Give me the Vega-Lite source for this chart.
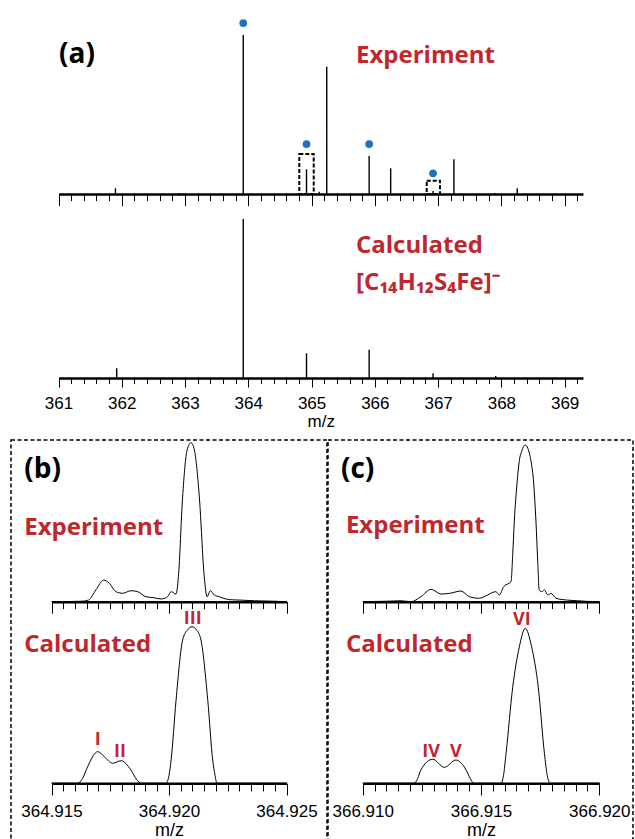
{
  "$schema": "https://vega.github.io/schema/vega-lite/v6.json",
  "background": "white",
  "padding": {"left": 10, "top": 0, "right": 2, "bottom": 0},
  "bounds": "flush",
  "spacing": 0,
  "config": {
    "view": {"stroke": null},
    "axis": {"grid": false, "domainColor": "black", "domainWidth": 2.5, "tickColor": "black", "tickWidth": 1, "labelFont": "Liberation Sans", "labelFontSize": 17, "labelColor": "black", "titleFont": "Liberation Sans", "titleFontSize": 18, "titleFontWeight": "normal", "titleColor": "black", "labelFlush": false, "labelOverlap": false, "labelBound": false},
    "text": {"font": "Open Sans", "fontWeight": "bold"}
  },
  "datasets": {
    "aExp": [{"mz":361.90,"intensity":3.6},{"mz":362.91,"intensity":0.6},{"mz":363.92,"intensity":100},{"mz":364.92,"intensity":15.5},{"mz":365.12,"intensity":1.4},{"mz":365.24,"intensity":80},{"mz":365.91,"intensity":23.9},{"mz":366.25,"intensity":16.2},{"mz":366.92,"intensity":1.9},{"mz":367.25,"intensity":21.8},{"mz":367.90,"intensity":0.6},{"mz":368.25,"intensity":3.6}],
    "aDots": [{"mz":363.92,"intensity":107.5},{"mz":364.92,"intensity":31.4},{"mz":365.91,"intensity":31.4},{"mz":366.92,"intensity":13}],
    "aBoxes": [{"mz0":364.806,"mz1":365.034,"top":25.2},{"mz0":366.82,"mz1":367.03,"top":8.4}],
    "aCalc": [{"mz":361.92,"intensity":6.1},{"mz":363.92,"intensity":100},{"mz":364.92,"intensity":15.5},{"mz":365.91,"intensity":17.8},{"mz":366.92,"intensity":3},{"mz":367.91,"intensity":1.3}],
    "bExp": [{"mz":364.915,"intensity":0},{"mz":364.9163,"intensity":0.3},{"mz":364.91657,"intensity":1},{"mz":364.91689,"intensity":7.4},{"mz":364.91722,"intensity":13.6},{"mz":364.91746,"intensity":11.6},{"mz":364.91774,"intensity":6.3},{"mz":364.91803,"intensity":5.3},{"mz":364.91838,"intensity":6.9},{"mz":364.91867,"intensity":6.3},{"mz":364.91902,"intensity":3.1},{"mz":364.91937,"intensity":2.5},{"mz":364.91966,"intensity":1.7},{"mz":364.9198,"intensity":2.1},{"mz":364.91994,"intensity":3.1},{"mz":364.92009,"intensity":6.3},{"mz":364.9203,"intensity":4.8},{"mz":364.9204,"intensity":15.7},{"mz":364.92058,"intensity":66},{"mz":364.92077,"intensity":95.4},{"mz":364.92094,"intensity":100},{"mz":364.92108,"intensity":95.4},{"mz":364.92129,"intensity":66},{"mz":364.9215,"intensity":15.7},{"mz":364.92162,"intensity":3.1},{"mz":364.92176,"intensity":6.9},{"mz":364.92193,"intensity":4.2},{"mz":364.92214,"intensity":3.1},{"mz":364.92233,"intensity":2.1},{"mz":364.92257,"intensity":1.3},{"mz":364.92306,"intensity":1},{"mz":364.92363,"intensity":0.6},{"mz":364.9245,"intensity":0.3},{"mz":364.925,"intensity":0}],
    "bCalc": [{"mz":364.915,"intensity":0},{"mz":364.91611,"intensity":0},{"mz":364.91632,"intensity":3},{"mz":364.91654,"intensity":10.7},{"mz":364.91697,"intensity":20.2},{"mz":364.91725,"intensity":17},{"mz":364.9176,"intensity":12.8},{"mz":364.91796,"intensity":14.4},{"mz":364.91838,"intensity":8.5},{"mz":364.91862,"intensity":2.5},{"mz":364.91881,"intensity":0},{"mz":364.91987,"intensity":0},{"mz":364.92,"intensity":5},{"mz":364.92009,"intensity":14.9},{"mz":364.9203,"intensity":53},{"mz":364.92058,"intensity":91.5},{"mz":364.92079,"intensity":98},{"mz":364.92098,"intensity":100},{"mz":364.92117,"intensity":98},{"mz":364.92136,"intensity":91.5},{"mz":364.92165,"intensity":53},{"mz":364.92186,"intensity":14.9},{"mz":364.92196,"intensity":5},{"mz":364.92204,"intensity":0},{"mz":364.925,"intensity":0}],
    "cExp": [{"mz":366.91,"intensity":0},{"mz":366.911,"intensity":0.3},{"mz":366.91162,"intensity":0.6},{"mz":366.91204,"intensity":0},{"mz":366.91246,"intensity":3.2},{"mz":366.91289,"intensity":7.9},{"mz":366.91331,"intensity":4.9},{"mz":366.91366,"intensity":5.3},{"mz":366.91415,"intensity":6.8},{"mz":366.91451,"intensity":3.2},{"mz":366.91493,"intensity":2.2},{"mz":366.91528,"intensity":4.3},{"mz":366.91563,"intensity":6.4},{"mz":366.91577,"intensity":4.3},{"mz":366.91596,"intensity":9.6},{"mz":366.91627,"intensity":12.8},{"mz":366.91634,"intensity":30},{"mz":366.91641,"intensity":52},{"mz":366.91652,"intensity":75},{"mz":366.91662,"intensity":90},{"mz":366.91672,"intensity":96},{"mz":366.91687,"intensity":100},{"mz":366.91704,"intensity":95},{"mz":366.91711,"intensity":90},{"mz":366.91723,"intensity":75},{"mz":366.91732,"intensity":52},{"mz":366.9174,"intensity":25},{"mz":366.91746,"intensity":7.5},{"mz":366.91757,"intensity":6.4},{"mz":366.91768,"intensity":7.5},{"mz":366.91782,"intensity":4.3},{"mz":366.91796,"intensity":5.3},{"mz":366.91817,"intensity":2.2},{"mz":366.91838,"intensity":1.5},{"mz":366.91866,"intensity":1},{"mz":366.91909,"intensity":0.6},{"mz":366.9195,"intensity":0.2},{"mz":366.92,"intensity":0}],
    "cCalc": [{"mz":366.91,"intensity":0},{"mz":366.91218,"intensity":0},{"mz":366.91232,"intensity":3},{"mz":366.91246,"intensity":8.6},{"mz":366.91296,"intensity":15.5},{"mz":366.91345,"intensity":10.3},{"mz":366.91394,"intensity":15},{"mz":366.91437,"intensity":8.6},{"mz":366.91455,"intensity":3},{"mz":366.91469,"intensity":0},{"mz":366.91585,"intensity":0},{"mz":366.91595,"intensity":5},{"mz":366.91606,"intensity":19.4},{"mz":366.91634,"intensity":62},{"mz":366.91662,"intensity":88},{"mz":366.91687,"intensity":100},{"mz":366.91714,"intensity":88},{"mz":366.91742,"intensity":62},{"mz":366.91768,"intensity":19.4},{"mz":366.9178,"intensity":5},{"mz":366.91793,"intensity":0},{"mz":366.92,"intensity":0}],
    "notes": [
      {"view":"A_exp","kind":"panel","label":"(a)","mz":361.008,"level":82.4},
      {"view":"A_exp","kind":"series","label":"Experiment","mz":365.702,"level":82.2},
      {"view":"A_calc","kind":"series","label":"Calculated","mz":365.702,"level":78.4},
      {"view":"A_calc","kind":"series","label":"[C₁₄H₁₂S₄Fe]⁻","mz":365.702,"level":55.3},
      {"view":"B_exp","kind":"panel","label":"(b)","mz":364.91384,"level":77.8},
      {"view":"B_exp","kind":"series","label":"Experiment","mz":364.91384,"level":41.9},
      {"view":"B_calc","kind":"series","label":"Calculated","mz":364.91384,"level":84},
      {"view":"B_calc","kind":"peak","label":"I","mz":364.91697,"level":24.5},
      {"view":"B_calc","kind":"peak","label":"II","mz":364.91791,"level":17},
      {"view":"B_calc","kind":"peak","label":"III","mz":364.92101,"level":101.7},
      {"view":"C_exp","kind":"panel","label":"(c)","mz":366.90908,"level":78.9},
      {"view":"C_exp","kind":"series","label":"Experiment","mz":366.90929,"level":43.6},
      {"view":"C_calc","kind":"series","label":"Calculated","mz":366.90929,"level":84.9},
      {"view":"C_calc","kind":"peak","label":"IV","mz":366.91289,"level":16.8},
      {"view":"C_calc","kind":"peak","label":"V","mz":366.91394,"level":16.8},
      {"view":"C_calc","kind":"peak","label":"VI","mz":366.91673,"level":102.1}
    ]
  },
  "vconcat": [
    {
      "width": 622,
      "height": 440,
      "view": {"stroke": null, "fill": "white"},
      "resolve": {"scale": {"x": "independent", "y": "independent"}, "axis": {"x": "independent", "y": "independent"}},
      "layer": [
        {
          "data": {"name": "aExp"},
          "mark": {"type": "rule", "color": "black", "strokeWidth": 1.4},
          "encoding": {
            "x": {"field": "mz", "type": "quantitative", "scale": {"domain": [361, 369.29], "range": [47.5, 572], "nice": false, "zero": false},
              "axis": {"orient": "bottom", "offset": -246, "labels": false, "title": null, "tickSize": 6.7, "values": [361,361.2,361.4,361.6,361.8,362,362.2,362.4,362.6,362.8,363,363.2,363.4,363.6,363.8,364,364.2,364.4,364.6,364.8,365,365.2,365.4,365.6,365.8,366,366.2,366.4,366.6,366.8,367,367.2,367.4,367.6,367.8,368,368.2,368.4,368.6,368.8,369,369.2]}},
            "y": {"field": "intensity", "type": "quantitative", "scale": {"domain": [0, 100], "range": [194, 35], "nice": false, "zero": false}, "axis": null},
            "y2": {"datum": 0}
          }
        },
        {
          "data": {"name": "aBoxes"},
          "mark": {"type": "rect", "fill": "transparent", "stroke": "black", "strokeWidth": 2, "strokeDash": [4, 2]},
          "encoding": {
            "x": {"field": "mz0", "type": "quantitative", "scale": {"domain": [361, 369.29], "range": [47.5, 572], "nice": false, "zero": false}, "axis": null},
            "x2": {"field": "mz1"},
            "y": {"field": "top", "type": "quantitative", "scale": {"domain": [0, 100], "range": [194, 35], "nice": false, "zero": false}, "axis": null},
            "y2": {"datum": 0}
          }
        },
        {
          "data": {"name": "aDots"},
          "mark": {"type": "point", "filled": true, "size": 60, "color": "#1f71c2", "opacity": 1},
          "encoding": {
            "x": {"field": "mz", "type": "quantitative", "scale": {"domain": [361, 369.29], "range": [47.5, 572], "nice": false, "zero": false}, "axis": null},
            "y": {"field": "intensity", "type": "quantitative", "scale": {"domain": [0, 100], "range": [194, 35], "nice": false, "zero": false}, "axis": null}
          }
        },
        {
          "data": {"name": "notes"},
          "transform": [{"filter": "datum.view === 'A_exp' && datum.kind === 'panel'"}],
          "mark": {"type": "text", "align": "left", "baseline": "alphabetic", "fontSize": 28, "color": "black"},
          "encoding": {
            "x": {"field": "mz", "type": "quantitative", "scale": {"domain": [361, 369.29], "range": [47.5, 572], "nice": false, "zero": false},
              "axis": {"orient": "bottom", "offset": -246, "labels": false, "title": null, "domain": false, "tickSize": 11.7, "values": [361,362,363,364,365,366,367,368,369]}},
            "y": {"field": "level", "type": "quantitative", "scale": {"domain": [0, 100], "range": [194, 35], "nice": false, "zero": false}, "axis": null},
            "text": {"field": "label"}
          }
        },
        {
          "data": {"name": "notes"},
          "transform": [{"filter": "datum.view === 'A_exp' && datum.kind === 'series'"}],
          "mark": {"type": "text", "align": "left", "baseline": "alphabetic", "fontSize": 24, "color": "#c0272d"},
          "encoding": {
            "x": {"field": "mz", "type": "quantitative", "scale": {"domain": [361, 369.29], "range": [47.5, 572], "nice": false, "zero": false}, "axis": null},
            "y": {"field": "level", "type": "quantitative", "scale": {"domain": [0, 100], "range": [194, 35], "nice": false, "zero": false}, "axis": null},
            "text": {"field": "label"}
          }
        },
        {
          "data": {"name": "aCalc"},
          "mark": {"type": "rule", "color": "black", "strokeWidth": 1.4},
          "encoding": {
            "x": {"field": "mz", "type": "quantitative", "scale": {"domain": [361, 369.29], "range": [47.5, 572], "nice": false, "zero": false},
              "axis": {"orient": "bottom", "offset": -62, "labels": false, "title": null, "tickSize": 5.5, "values": [361,361.2,361.4,361.6,361.8,362,362.2,362.4,362.6,362.8,363,363.2,363.4,363.6,363.8,364,364.2,364.4,364.6,364.8,365,365.2,365.4,365.6,365.8,366,366.2,366.4,366.6,366.8,367,367.2,367.4,367.6,367.8,368,368.2,368.4,368.6,368.8,369,369.2]}},
            "y": {"field": "intensity", "type": "quantitative", "scale": {"domain": [0, 100], "range": [378, 219], "nice": false, "zero": false}, "axis": null},
            "y2": {"datum": 0}
          }
        },
        {
          "data": {"name": "notes"},
          "transform": [{"filter": "datum.view === 'A_calc' && datum.kind === 'series'"}],
          "mark": {"type": "text", "align": "left", "baseline": "alphabetic", "fontSize": 24, "color": "#c0272d"},
          "encoding": {
            "x": {"field": "mz", "type": "quantitative", "scale": {"domain": [361, 369.29], "range": [47.5, 572], "nice": false, "zero": false},
              "axis": {"orient": "bottom", "offset": -62, "domain": false, "tickSize": 9, "labelPadding": 8, "format": "d", "title": "m/z", "titleFontSize": 17, "titlePadding": 2, "values": [361,362,363,364,365,366,367,368,369]}},
            "y": {"field": "level", "type": "quantitative", "scale": {"domain": [0, 100], "range": [378, 219], "nice": false, "zero": false}, "axis": null},
            "text": {"field": "label"}
          }
        }
      ]
    },
    {
      "hconcat": [
        {
          "width": 316,
          "height": 400,
          "view": {"stroke": "black", "strokeWidth": 1.5, "strokeDash": [4, 2.5], "fill": "white"},
          "resolve": {"scale": {"x": "independent", "y": "independent"}, "axis": {"x": "independent", "y": "independent"}},
          "layer": [
            {
              "data": {"name": "bExp"},
              "mark": {"type": "line", "color": "black", "strokeWidth": 1, "interpolate": "monotone"},
              "encoding": {
                "x": {"field": "mz", "type": "quantitative", "scale": {"domain": [364.915, 364.925], "range": [40.5, 275.5], "nice": false, "zero": false},
                  "axis": {"orient": "bottom", "offset": -238.3, "labels": false, "title": null, "tickSize": 7,
                    "values": [364.915,364.9155,364.916,364.9165,364.917,364.9175,364.918,364.9185,364.919,364.9195,364.92,364.9205,364.921,364.9215,364.922,364.9225,364.923,364.9235,364.924,364.9245,364.925]}},
                "y": {"field": "intensity", "type": "quantitative", "scale": {"domain": [0, 100], "range": [161.7, 2.7], "nice": false, "zero": false}, "axis": null}
              }
            },
            {
              "data": {"name": "notes"},
              "transform": [{"filter": "datum.view === 'B_exp' && datum.kind === 'panel'"}],
              "mark": {"type": "text", "align": "left", "baseline": "alphabetic", "fontSize": 28, "color": "black"},
              "encoding": {
                "x": {"field": "mz", "type": "quantitative", "scale": {"domain": [364.915, 364.925], "range": [40.5, 275.5], "nice": false, "zero": false},
                  "axis": {"orient": "bottom", "offset": -238.3, "labels": false, "title": null, "domain": false, "tickSize": 11.5, "values": [364.915, 364.92, 364.925]}},
                "y": {"field": "level", "type": "quantitative", "scale": {"domain": [0, 100], "range": [161.7, 2.7], "nice": false, "zero": false}, "axis": null},
                "text": {"field": "label"}
              }
            },
            {
              "data": {"name": "notes"},
              "transform": [{"filter": "datum.view === 'B_exp' && datum.kind === 'series'"}],
              "mark": {"type": "text", "align": "left", "baseline": "alphabetic", "fontSize": 24, "color": "#c0272d"},
              "encoding": {
                "x": {"field": "mz", "type": "quantitative", "scale": {"domain": [364.915, 364.925], "range": [40.5, 275.5], "nice": false, "zero": false}, "axis": null},
                "y": {"field": "level", "type": "quantitative", "scale": {"domain": [0, 100], "range": [161.7, 2.7], "nice": false, "zero": false}, "axis": null},
                "text": {"field": "label"}
              }
            },
            {
              "data": {"name": "bCalc"},
              "mark": {"type": "line", "color": "black", "strokeWidth": 1, "interpolate": "monotone"},
              "encoding": {
                "x": {"field": "mz", "type": "quantitative", "scale": {"domain": [364.915, 364.925], "range": [40.5, 275.5], "nice": false, "zero": false},
                  "axis": {"orient": "bottom", "offset": -56.7, "labels": false, "title": null, "tickSize": 7.7,
                    "values": [364.915,364.9155,364.916,364.9165,364.917,364.9175,364.918,364.9185,364.919,364.9195,364.92,364.9205,364.921,364.9215,364.922,364.9225,364.923,364.9235,364.924,364.9245,364.925]}},
                "y": {"field": "intensity", "type": "quantitative", "scale": {"domain": [0, 100], "range": [343.3, 186.7], "nice": false, "zero": false}, "axis": null}
              }
            },
            {
              "data": {"name": "notes"},
              "transform": [{"filter": "datum.view === 'B_calc' && datum.kind === 'series'"}],
              "mark": {"type": "text", "align": "left", "baseline": "alphabetic", "fontSize": 24, "color": "#c0272d"},
              "encoding": {
                "x": {"field": "mz", "type": "quantitative", "scale": {"domain": [364.915, 364.925], "range": [40.5, 275.5], "nice": false, "zero": false},
                  "axis": {"orient": "bottom", "offset": -56.7, "domain": false, "tickSize": 11.7, "labelPadding": 8.2, "format": ".3f", "title": "m/z", "titlePadding": 2, "values": [364.915, 364.92, 364.925]}},
                "y": {"field": "level", "type": "quantitative", "scale": {"domain": [0, 100], "range": [343.3, 186.7], "nice": false, "zero": false}, "axis": null},
                "text": {"field": "label"}
              }
            },
            {
              "data": {"name": "notes"},
              "transform": [{"filter": "datum.view === 'B_calc' && datum.kind === 'peak'"}],
              "mark": {"type": "text", "align": "center", "baseline": "alphabetic", "fontSize": 18, "color": "#c0272d"},
              "encoding": {
                "x": {"field": "mz", "type": "quantitative", "scale": {"domain": [364.915, 364.925], "range": [40.5, 275.5], "nice": false, "zero": false}, "axis": null},
                "y": {"field": "level", "type": "quantitative", "scale": {"domain": [0, 100], "range": [343.3, 186.7], "nice": false, "zero": false}, "axis": null},
                "text": {"field": "label"}
              }
            }
          ]
        },
        {
          "width": 305,
          "height": 400,
          "view": {"stroke": "black", "strokeWidth": 1.5, "strokeDash": [4, 2.5], "fill": "white"},
          "resolve": {"scale": {"x": "independent", "y": "independent"}, "axis": {"x": "independent", "y": "independent"}},
          "layer": [
            {
              "data": {"name": "cExp"},
              "mark": {"type": "line", "color": "black", "strokeWidth": 1, "interpolate": "monotone"},
              "encoding": {
                "x": {"field": "mz", "type": "quantitative", "scale": {"domain": [366.91, 366.92], "range": [34.7, 271.3], "nice": false, "zero": false},
                  "axis": {"orient": "bottom", "offset": -238.3, "labels": false, "title": null, "tickSize": 7,
                    "values": [366.91,366.9105,366.911,366.9115,366.912,366.9125,366.913,366.9135,366.914,366.9145,366.915,366.9155,366.916,366.9165,366.917,366.9175,366.918,366.9185,366.919,366.9195,366.92]}},
                "y": {"field": "intensity", "type": "quantitative", "scale": {"domain": [0, 100], "range": [161.7, 5], "nice": false, "zero": false}, "axis": null}
              }
            },
            {
              "data": {"name": "notes"},
              "transform": [{"filter": "datum.view === 'C_exp' && datum.kind === 'panel'"}],
              "mark": {"type": "text", "align": "left", "baseline": "alphabetic", "fontSize": 28, "color": "black"},
              "encoding": {
                "x": {"field": "mz", "type": "quantitative", "scale": {"domain": [366.91, 366.92], "range": [34.7, 271.3], "nice": false, "zero": false},
                  "axis": {"orient": "bottom", "offset": -238.3, "labels": false, "title": null, "domain": false, "tickSize": 11.5, "values": [366.91, 366.915, 366.92]}},
                "y": {"field": "level", "type": "quantitative", "scale": {"domain": [0, 100], "range": [161.7, 5], "nice": false, "zero": false}, "axis": null},
                "text": {"field": "label"}
              }
            },
            {
              "data": {"name": "notes"},
              "transform": [{"filter": "datum.view === 'C_exp' && datum.kind === 'series'"}],
              "mark": {"type": "text", "align": "left", "baseline": "alphabetic", "fontSize": 24, "color": "#c0272d"},
              "encoding": {
                "x": {"field": "mz", "type": "quantitative", "scale": {"domain": [366.91, 366.92], "range": [34.7, 271.3], "nice": false, "zero": false}, "axis": null},
                "y": {"field": "level", "type": "quantitative", "scale": {"domain": [0, 100], "range": [161.7, 5], "nice": false, "zero": false}, "axis": null},
                "text": {"field": "label"}
              }
            },
            {
              "data": {"name": "cCalc"},
              "mark": {"type": "line", "color": "black", "strokeWidth": 1, "interpolate": "monotone"},
              "encoding": {
                "x": {"field": "mz", "type": "quantitative", "scale": {"domain": [366.91, 366.92], "range": [34.7, 271.3], "nice": false, "zero": false},
                  "axis": {"orient": "bottom", "offset": -56.7, "labels": false, "title": null, "tickSize": 7.7,
                    "values": [366.91,366.9105,366.911,366.9115,366.912,366.9125,366.913,366.9135,366.914,366.9145,366.915,366.9155,366.916,366.9165,366.917,366.9175,366.918,366.9185,366.919,366.9195,366.92]}},
                "y": {"field": "intensity", "type": "quantitative", "scale": {"domain": [0, 100], "range": [343.3, 188.3], "nice": false, "zero": false}, "axis": null}
              }
            },
            {
              "data": {"name": "notes"},
              "transform": [{"filter": "datum.view === 'C_calc' && datum.kind === 'series'"}],
              "mark": {"type": "text", "align": "left", "baseline": "alphabetic", "fontSize": 24, "color": "#c0272d"},
              "encoding": {
                "x": {"field": "mz", "type": "quantitative", "scale": {"domain": [366.91, 366.92], "range": [34.7, 271.3], "nice": false, "zero": false},
                  "axis": {"orient": "bottom", "offset": -56.7, "domain": false, "tickSize": 11.7, "labelPadding": 8.2, "format": ".3f", "title": "m/z", "titlePadding": 2, "values": [366.91, 366.915, 366.92]}},
                "y": {"field": "level", "type": "quantitative", "scale": {"domain": [0, 100], "range": [343.3, 188.3], "nice": false, "zero": false}, "axis": null},
                "text": {"field": "label"}
              }
            },
            {
              "data": {"name": "notes"},
              "transform": [{"filter": "datum.view === 'C_calc' && datum.kind === 'peak'"}],
              "mark": {"type": "text", "align": "center", "baseline": "alphabetic", "fontSize": 18, "color": "#c0272d"},
              "encoding": {
                "x": {"field": "mz", "type": "quantitative", "scale": {"domain": [366.91, 366.92], "range": [34.7, 271.3], "nice": false, "zero": false}, "axis": null},
                "y": {"field": "level", "type": "quantitative", "scale": {"domain": [0, 100], "range": [343.3, 188.3], "nice": false, "zero": false}, "axis": null},
                "text": {"field": "label"}
              }
            }
          ]
        }
      ],
      "spacing": 1,
      "bounds": "flush"
    }
  ]
}
